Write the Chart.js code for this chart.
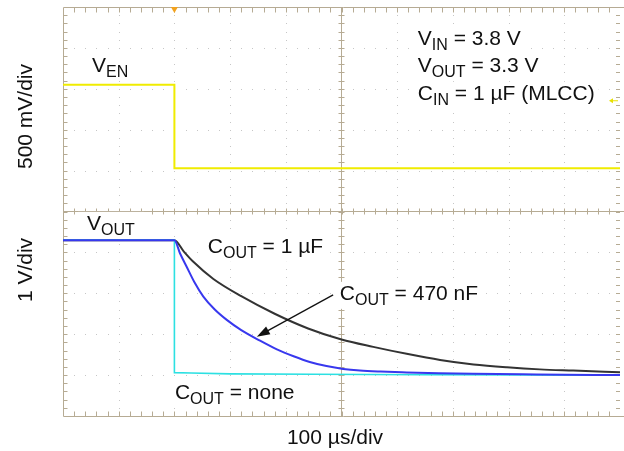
<!DOCTYPE html>
<html><head><meta charset="utf-8">
<script src="https://cdn.jsdelivr.net/npm/chart.js@4.4.1/dist/chart.umd.min.js"></script>
<style>html,body{margin:0;padding:0;background:#fff;}canvas{display:block;background:#fff;}</style>
</head><body>
<canvas id="c" width="624" height="451"></canvas>
<script>
// Time in µs relative to the EN falling edge (100 µs/div); voltages in volts
const enTime  = [-200, 0, 0, 800];
const enVolts = [1.05, 1.05, 0.03, 0.03];

const cout1uTime  = [-200, 0, 17, 34, 70, 120, 180, 240, 300, 357, 417, 477, 537, 597, 656, 716, 800];
const cout1uVolts = [3.30, 3.30, 3.02, 2.77, 2.35, 1.93, 1.50, 1.14, 0.87, 0.69, 0.52, 0.37, 0.26, 0.19, 0.14, 0.11, 0.07];

const cout470nTime  = [-200, 0, 10, 22, 36, 52, 72, 94, 120, 154, 184, 214, 243, 273, 303, 333, 370, 417, 475, 536, 650, 800];
const cout470nVolts = [3.30, 3.30, 2.98, 2.65, 2.27, 1.92, 1.61, 1.35, 1.10, 0.84, 0.63, 0.46, 0.32, 0.22, 0.15, 0.11, 0.085, 0.065, 0.045, 0.03, 0.015, 0.00];

const coutNoneTime  = [-200, 0, 0, 30, 100, 250, 450, 800];
const coutNoneVolts = [3.30, 3.30, 0.06, 0.05, 0.03, 0.02, 0.01, 0.00];

const pts = (ts, vs) => ts.map((t, i) => ({x: t, y: vs[i]}));

const GRID = '#b6ab94';
const DOTS = '#c6c6c6';
const MAIN = '21px "Liberation Sans", Arial, sans-serif';
const SUB  = '16px "Liberation Sans", Arial, sans-serif';

// annotation anchors in (µs, V on VOUT scale)
const notes = [
  {parts: [['V'], ['EN', 1]], t: -148, v: 7.41, pad: 4},
  {parts: [['V'], ['IN', 1], [' = 3.8 V']], t: 437, v: 8.07, pad: 4},
  {parts: [['V'], ['OUT', 1], [' = 3.3 V']], t: 437, v: 7.41, pad: 4},
  {parts: [['C'], ['IN', 1], [' = 1 µF (MLCC)']], t: 437, v: 6.73, pad: 4},
  {parts: [['V'], ['OUT', 1]], t: -157, v: 3.55, pad: 9},
  {parts: [['C'], ['OUT', 1], [' = 1 µF']], t: 60, v: 2.99, pad: 4},
  {parts: [['C'], ['OUT', 1], [' = 470 nF']], t: 297, v: 1.84, pad: 4},
  {parts: [['C'], ['OUT', 1], [' = none']], t: 1, v: -0.58, pad: 3}
];
const arrowFrom = {t: 285, v: 1.96};
const arrowTo   = {t: 148, v: 0.94};

function richWidth(ctx, parts) {
  let w = 0;
  for (const [s, sub] of parts) { ctx.font = sub ? SUB : MAIN; w += ctx.measureText(s).width; }
  return w;
}
function drawRich(ctx, parts, x, y) {
  let cx = x;
  for (const [s, sub] of parts) {
    ctx.font = sub ? SUB : MAIN;
    ctx.fillText(s, cx, y + (sub ? 5 : 0));
    cx += ctx.measureText(s).width;
  }
}

const scopePlugin = {
  id: 'scope',
  beforeDatasetsDraw(chart) {
    const {ctx, chartArea: a, scales: {x, yOut}} = chart;
    ctx.save();
    ctx.fillStyle = DOTS;
    for (let i = 1; i < 10; i++) {
      if (i === 5) continue;
      const px = Math.round(x.getPixelForValue(-200 + i * 100));
      for (let k = 1; k < 50; k++) ctx.fillRect(px, Math.round(yOut.getPixelForValue(-1 + k * 0.2)), 1, 1);
      const py = Math.round(yOut.getPixelForValue(-1 + i));
      for (let k = 1; k < 50; k++) ctx.fillRect(Math.round(x.getPixelForValue(-200 + k * 20)), py, 1, 1);
    }
    ctx.strokeStyle = GRID;
    ctx.lineWidth = 1;
    const L = Math.round(a.left) + 0.5, T = Math.round(a.top) + 0.5, B = Math.round(a.bottom) + 0.5, R = Math.round(a.right);
    const cx = Math.floor(x.getPixelForValue(300)) + 0.5, cy = Math.floor(yOut.getPixelForValue(4)) + 0.5;
    ctx.beginPath();
    ctx.moveTo(L, T); ctx.lineTo(624, T);
    ctx.moveTo(L, B); ctx.lineTo(624, B);
    ctx.moveTo(L, T); ctx.lineTo(L, B);
    ctx.moveTo(cx, T); ctx.lineTo(cx, B);
    ctx.moveTo(L, cy); ctx.lineTo(624, cy);
    for (let k = 1; k < 50; k++) {
      const px = Math.round(x.getPixelForValue(-200 + k * 20)) + 0.5;
      ctx.moveTo(px, T); ctx.lineTo(px, T + 5);
      ctx.moveTo(px, B); ctx.lineTo(px, B - 5);
      ctx.moveTo(px, cy - 3); ctx.lineTo(px, cy + 3);
      const py = Math.round(yOut.getPixelForValue(-1 + k * 0.2)) + 0.5;
      ctx.moveTo(L, py); ctx.lineTo(L + 4, py);
      ctx.moveTo(R, py); ctx.lineTo(R - 4, py);
      ctx.moveTo(cx - 3, py); ctx.lineTo(cx + 3, py);
    }
    ctx.stroke();
    ctx.fillStyle = '#fff';
    for (const n of notes) {
      const w = richWidth(ctx, n.parts);
      const px = x.getPixelForValue(n.t), py = yOut.getPixelForValue(n.v);
      ctx.fillRect(px - n.pad, py - 18, w + 2 * n.pad, 27);
    }
    ctx.restore();
  },
  afterDatasetsDraw(chart) {
    const {ctx, scales: {x, yOut, yEn}} = chart;
    ctx.save();
    ctx.fillStyle = '#111';
    ctx.textBaseline = 'alphabetic';
    ctx.textAlign = 'left';
    for (const n of notes) drawRich(ctx, n.parts, x.getPixelForValue(n.t), yOut.getPixelForValue(n.v));
    const x1 = x.getPixelForValue(arrowFrom.t), y1 = yOut.getPixelForValue(arrowFrom.v);
    const x2 = x.getPixelForValue(arrowTo.t), y2 = yOut.getPixelForValue(arrowTo.v);
    const ang = Math.atan2(y2 - y1, x2 - x1);
    ctx.strokeStyle = '#111'; ctx.lineWidth = 1.3;
    ctx.beginPath(); ctx.moveTo(x1, y1);
    ctx.lineTo(x2 - 9 * Math.cos(ang), y2 - 9 * Math.sin(ang)); ctx.stroke();
    ctx.beginPath();
    ctx.moveTo(x2, y2);
    ctx.lineTo(x2 - 13 * Math.cos(ang) + 4.5 * Math.sin(ang), y2 - 13 * Math.sin(ang) - 4.5 * Math.cos(ang));
    ctx.lineTo(x2 - 13 * Math.cos(ang) - 4.5 * Math.sin(ang), y2 - 13 * Math.sin(ang) + 4.5 * Math.cos(ang));
    ctx.closePath(); ctx.fill();
    const tx = x.getPixelForValue(0), top = chart.chartArea.top;
    ctx.fillStyle = '#f2a21e';
    ctx.beginPath(); ctx.moveTo(tx - 3.5, top); ctx.lineTo(tx + 3.5, top); ctx.lineTo(tx, top + 6); ctx.closePath(); ctx.fill();
    const ly = yEn.getPixelForValue(0.86), lx = chart.chartArea.right - 11;
    ctx.strokeStyle = '#e8e000'; ctx.fillStyle = '#e8e000'; ctx.lineWidth = 1;
    ctx.beginPath(); ctx.moveTo(lx + 3, ly + 0.5); ctx.lineTo(lx + 9, ly + 0.5); ctx.stroke();
    ctx.beginPath(); ctx.moveTo(lx, ly + 0.5); ctx.lineTo(lx + 4, ly - 2); ctx.lineTo(lx + 4, ly + 3); ctx.closePath(); ctx.fill();
    ctx.fillStyle = '#111';
    ctx.font = MAIN;
    ctx.textAlign = 'center';
    ctx.save(); ctx.translate(32, 116.5); ctx.rotate(-Math.PI / 2); ctx.fillText('500 mV/div', 0, 0); ctx.restore();
    ctx.save(); ctx.translate(32, 270); ctx.rotate(-Math.PI / 2); ctx.fillText('1 V/div', 0, 0); ctx.restore();
    ctx.fillText('100 µs/div', 335, 444);
    ctx.restore();
  }
};

new Chart(document.getElementById('c'), {
  type: 'line',
  data: {
    datasets: [
      {label: 'COUT = 470 nF', data: pts(cout470nTime, cout470nVolts), yAxisID: 'yOut', borderColor: '#3838ee', borderWidth: 2, cubicInterpolationMode: 'monotone'},
      {label: 'COUT = none', data: pts(coutNoneTime, coutNoneVolts), yAxisID: 'yOut', borderColor: '#2ce0e2', borderWidth: 1.6, tension: 0},
      {label: 'COUT = 1 µF', data: pts(cout1uTime, cout1uVolts), yAxisID: 'yOut', borderColor: '#333333', borderWidth: 2, cubicInterpolationMode: 'monotone'},
      {label: 'VEN', data: pts(enTime, enVolts), yAxisID: 'yEn', borderColor: '#f0ec00', borderWidth: 2, tension: 0}
    ]
  },
  options: {
    responsive: false,
    animation: false,
    devicePixelRatio: 1,
    layout: {padding: {left: 63, top: 7, right: 4, bottom: 35}},
    elements: {point: {radius: 0}},
    plugins: {legend: {display: false}, tooltip: {enabled: false}, title: {display: false}},
    scales: {
      x: {type: 'linear', min: -200, max: 800, display: false},
      yOut: {type: 'linear', min: -1, max: 9, display: false},
      yEn: {type: 'linear', min: -3, max: 2, display: false}
    }
  },
  plugins: [scopePlugin]
});
</script>
</body></html>
